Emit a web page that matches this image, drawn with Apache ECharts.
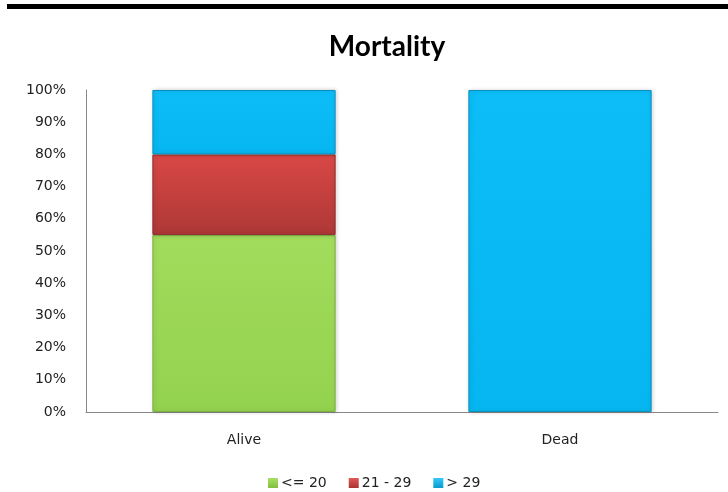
<!DOCTYPE html>
<html>
<head>
<meta charset="utf-8">
<script src="https://cdn.jsdelivr.net/npm/echarts@6/dist/echarts.min.js"></script>
<style>
  html, body { margin: 0; padding: 0; background: #fff; }
  #main { width: 728px; height: 492px; }
</style>
</head>
<body>
<div id="main"></div>
<script>
  // data (percent of each group)
  var categories = ['Alive', 'Dead'];
  var seriesNames = ['<= 20', '21 - 29', '> 29'];
  var low = [55, 0];
  var mid = [25, 0];
  var high = [20, 100];
  var yTicks = [0, 10, 20, 30, 40, 50, 60, 70, 80, 90, 100];

  function grad(top, bottom) {
    return new echarts.graphic.LinearGradient(0, 0, 0, 1, [
      { offset: 0, color: top },
      { offset: 1, color: bottom }
    ]);
  }

  var colors = [
    { fill: grad('#a2dc5c', '#93d24e'), border: '#7cae41', legend: grad('#a9e06a', '#7fbf3c') },
    { fill: grad('#d94846', '#ad3836'), border: '#8e2c2a', legend: grad('#e05a58', '#a83432') },
    { fill: grad('#0cbdf8', '#06b6f0'), border: '#0a8fbd', legend: grad('#35c8f5', '#0a9ad0') }
  ];

  function makeSeries(name, values, c) {
    return {
      name: name,
      type: 'bar',
      stack: 'total',
      barWidth: '58%',
      // empty segments are not drawn at all
      data: values.map(function (v) { return v === 0 ? '-' : v; }),
      itemStyle: {
        color: c.fill,
        borderColor: c.border,
        borderWidth: 1,
        shadowColor: 'rgba(0,0,0,0.18)',
        shadowBlur: 4,
        shadowOffsetX: 1
      },
      emphasis: { disabled: true }
    };
  }

  var chart = echarts.init(document.getElementById('main'));
  chart.setOption({
    animation: false,
    textStyle: { fontFamily: 'DejaVu Sans' },
    title: {
      text: 'Mortality',
      left: 382,
      top: 28,
      textAlign: 'center',
      textStyle: { fontFamily: 'Lato', fontSize: 28, fontWeight: 'bold', color: '#000' }
    },
    graphic: [{
      type: 'rect',
      shape: { x: 7, y: 4, width: 721, height: 5 },
      style: { fill: '#000' }
    }],
    legend: {
      left: 268,
      top: 476,
      padding: 0,
      itemWidth: 10,
      itemHeight: 10,
      itemGap: 22,
      icon: 'rect',
      selectedMode: false,
      textStyle: { fontFamily: 'DejaVu Sans', fontSize: 14, color: '#222', padding: [0, 0, 0, -2] },
      data: seriesNames.map(function (n, i) {
        return { name: n, itemStyle: { color: colors[i].legend, borderWidth: 0, shadowBlur: 0 } };
      })
    },
    grid: { left: 86, right: 10, top: 90, bottom: 80 },
    xAxis: {
      type: 'category',
      data: categories,
      axisLine: { lineStyle: { color: '#888', width: 1 } },
      axisTick: { show: false },
      axisLabel: { color: '#222', fontSize: 14, margin: 21 }
    },
    yAxis: {
      type: 'value',
      min: yTicks[0],
      max: yTicks[yTicks.length - 1],
      interval: 10,
      axisLine: { show: true, lineStyle: { color: '#888', width: 1 } },
      axisTick: { show: false },
      splitLine: { show: false },
      axisLabel: { color: '#222', fontSize: 14, margin: 20, formatter: '{value}%' }
    },
    series: [
      makeSeries(seriesNames[0], low, colors[0]),
      makeSeries(seriesNames[1], mid, colors[1]),
      makeSeries(seriesNames[2], high, colors[2])
    ]
  });
</script>
</body>
</html>
